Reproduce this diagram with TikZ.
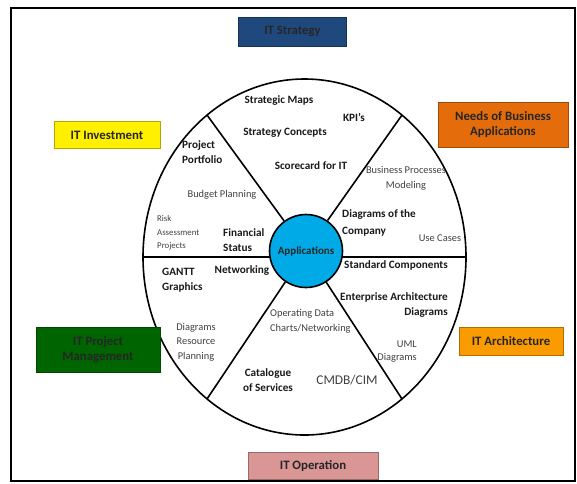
\documentclass[tikz,border=0pt]{standalone}
\usepackage{fontspec}
\setmainfont{Carlito}
\usepackage{tikz}

\definecolor{strategyblue}{RGB}{31,73,125}
\definecolor{investyellow}{RGB}{255,240,0}
\definecolor{needsorange}{RGB}{228,108,10}
\definecolor{archorange}{RGB}{250,155,0}
\definecolor{projgreen}{RGB}{0,100,0}
\definecolor{operpink}{RGB}{217,150,148}
\definecolor{appblue}{RGB}{0,170,230}

\tikzset{
  area/.style={draw=#1!70!black, fill=#1, text=black!85, align=center,
    font=\bfseries\fontsize{12.8}{15}\selectfont, inner sep=0pt},
  item/.style={text=black!90, align=center, inner sep=0pt,
    font=\bfseries\fontsize{11.2}{15.5}\selectfont},
  thin item/.style={item, font=\fontsize{10.4}{15}\selectfont, text=black!75},
  wheel/.style={line width=1.6pt},
}

\begin{document}
\begin{tikzpicture}[x=1pt,y=-1pt]

\useasboundingbox (0,0) rectangle (577,483);

% Draw Frame

\draw[line width=1.5pt] (11,8) rectangle (575,481);

% Draw Outer Wheel

\draw[wheel] (304.5,257) ellipse [x radius=161.5pt, y radius=178pt];

\coordinate (left) at (143,257);
\coordinate (right) at (466,257);
\coordinate (upleft) at (207,115);
\coordinate (upright) at (402,115);
\coordinate (lowleft) at (207,399);
\coordinate (lowright) at (402,399);

\draw[wheel] (left) -- (right);

% Draw Applications

\node[circle, draw, wheel, fill=appblue, minimum size=73pt, inner sep=0pt,
  font=\bfseries\fontsize{11}{12}\selectfont, text=black!85] (app) at (306,251) {Applications};

% Draw Spokes

\draw[wheel] (app) -- (upleft);
\draw[wheel] (app) -- (upright);
\draw[wheel] (app) -- (lowleft);
\draw[wheel] (app) -- (lowright);

% Draw Areas

\node[area=strategyblue, minimum width=108pt, minimum height=29pt] (strategy) at (292.5,31.5) {IT Strategy};
\node[area=investyellow, minimum width=106pt, minimum height=27pt] (invest) at (107,135) {IT Investment};
\node[area=needsorange, minimum width=130pt, minimum height=45pt] (needs) at (503,125) {Needs of Business\\Applications};
\node[area=archorange, minimum width=104pt, minimum height=28pt] (arch) at (511,341) {IT Architecture};
\node[area=projgreen, minimum width=124pt, minimum height=45pt] (project) at (98,350) {IT Project\\Management};
\node[area=operpink, minimum width=130pt, minimum height=27pt] (operation) at (313,466) {IT Operation};

% Draw Strategy Items

\node[item] (maps) at (279,101) {Strategic Maps};
\node[item] (kpi) at (354,117) {KPI’s};
\node[item] (concepts) at (285,133) {Strategy Concepts};
\node[item] (scorecard) at (311,166) {Scorecard for IT};

% Draw Business Items

\node[thin item] (processes) at (406,178) {Business Processes\\Modeling};
\node[item, align=left, anchor=west, font=\bfseries\fontsize{11.2}{17}\selectfont] (company) at (342,223) {Diagrams of the\\Company};
\node[thin item] (usecases) at (440,238) {Use Cases};

% Draw Architecture Items

\node[item] (standard) at (396,265) {Standard Components};
\node[item, align=right, anchor=east] (enterprise) at (448,305) {Enterprise Architecture\\Diagrams};
\node[thin item, align=right, anchor=east, font=\fontsize{10.4}{13}\selectfont] (uml) at (417,352) {UML\\Diagrams};

% Draw Operation Items

\node[thin item, align=left, anchor=west] (operating) at (270,321) {Operating Data\\Charts/Networking};
\node[thin item, font=\fontsize{13.4}{16}\selectfont] (cmdb) at (347,380) {CMDB/CIM};
\node[item] (catalogue) at (268,380) {Catalogue\\of Services};

% Draw Project Items

\node[item, align=left, anchor=west] (gantt) at (162,280) {GANTT\\Graphics};
\node[item] (networking) at (242,271) {Networking};
\node[thin item, font=\fontsize{10.4}{14.5}\selectfont] (resource) at (196,342) {Diagrams\\Resource\\Planning};

% Draw Investment Items

\node[item, align=left, anchor=west] (portfolio) at (182,152) {Project\\Portfolio};
\node[thin item] (budget) at (222,195) {Budget Planning};
\node[thin item, align=left, anchor=west, font=\fontsize{8.8}{13.5}\selectfont] (risk) at (157,233) {Risk\\Assessment\\Projects};
\node[item, align=left, anchor=west] (financial) at (223,240) {Financial\\Status};

\end{tikzpicture}
\end{document}
